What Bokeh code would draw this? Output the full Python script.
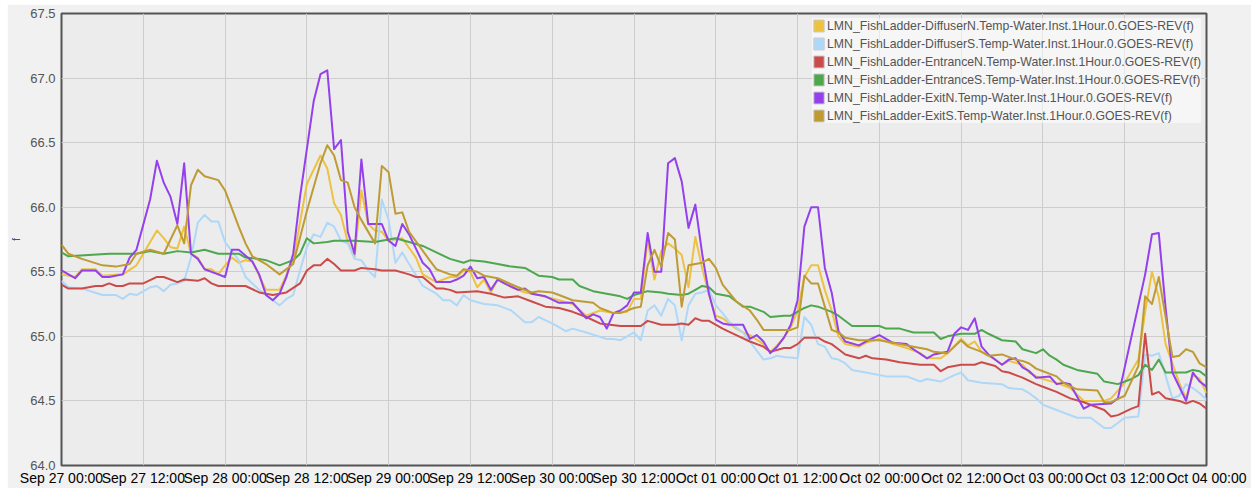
from datetime import datetime, timedelta
from bokeh.plotting import figure
from bokeh.models import (Range1d, FixedTicker, DatetimeTickFormatter, NumeralTickFormatter,
                          Legend, LegendItem, ColumnDataSource)
from bokeh.embed import file_html
from bokeh.resources import INLINE

# ---------------- data (hours after Sep 27 00:00, value in f) ----------------
start = datetime(2023, 9, 27)

names = [
    "LMN_FishLadder-DiffuserN.Temp-Water.Inst.1Hour.0.GOES-REV(f)",
    "LMN_FishLadder-DiffuserS.Temp-Water.Inst.1Hour.0.GOES-REV(f)",
    "LMN_FishLadder-EntranceN.Temp-Water.Inst.1Hour.0.GOES-REV(f)",
    "LMN_FishLadder-EntranceS.Temp-Water.Inst.1Hour.0.GOES-REV(f)",
    "LMN_FishLadder-ExitN.Temp-Water.Inst.1Hour.0.GOES-REV(f)",
    "LMN_FishLadder-ExitS.Temp-Water.Inst.1Hour.0.GOES-REV(f)",
]
colors = ["#edc240", "#afd8f8", "#cb4b4b", "#4da74d", "#9440ed", "#be9b33"]

diffN_h = [0, 2, 3, 5, 6, 9, 11, 12, 14, 15, 16, 17, 18, 19, 20, 21, 22, 23, 24, 25, 26, 27, 28,
           30, 32, 34, 36, 38, 39, 40, 41, 42, 43, 44, 45, 46, 47, 48, 50, 52, 53, 55, 57, 58, 59,
           60, 61, 62, 63, 64, 66, 68, 70, 73, 75, 77, 79, 81, 83, 84, 85, 86, 87, 88, 89, 90, 91,
           92, 93, 94, 95, 96, 97, 99, 100, 101, 103, 104, 105, 106, 107, 108, 109, 110, 111, 112,
           113, 114, 115, 117, 118, 120, 122, 124, 126, 127, 129, 130, 132, 133, 134, 135, 137,
           138, 139, 141, 142, 143, 144, 146, 148, 150, 153, 154, 156, 158, 159, 160, 161, 162,
           164, 165, 166, 167, 168]
diffN_v = [65.48, 65.46, 65.52, 65.52, 65.47, 65.48, 65.55, 65.64, 65.82, 65.76, 65.69, 65.68,
           65.85, 65.64, 65.61, 65.52, 65.52, 65.48, 65.55, 65.61, 65.57, 65.59, 65.58,
           65.36, 65.36, 65.59, 66.18, 66.40, 66.30, 66.03, 65.94, 65.73, 65.61, 66.13, 65.87,
           65.82, 65.81, 65.74, 65.76, 65.61, 65.48, 65.42, 65.46, 65.46, 65.51,
           65.50, 65.38, 65.44, 65.34, 65.44, 65.38, 65.34, 65.32, 65.28, 65.25, 65.16, 65.20,
           65.18, 65.19, 65.29, 65.29, 65.75, 65.44, 65.66, 65.72, 65.68, 65.63,
           65.38, 65.77, 65.53, 65.32, 65.16, 65.14, 65.06, 65.03, 65.01, 64.94, 64.88, 64.93,
           64.99, 65.07, 65.20, 65.46, 65.55, 65.55, 65.36,
           65.20, 65.00, 64.94, 64.92, 64.95, 64.98, 64.94, 64.91, 64.87, 64.83, 64.83, 64.87,
           64.98, 64.93, 64.96, 64.88, 64.82,
           64.78, 64.81, 64.78, 64.72, 64.69, 64.67, 64.64, 64.60, 64.50, 64.50, 64.52, 64.64,
           64.82, 65.19, 65.50, 65.30, 64.94,
           64.64, 64.52, 64.70, 64.67, 64.56]

diffS_h = [0, 1, 3, 6, 8, 9, 10, 11, 13, 14, 15, 16, 17, 18, 19, 20, 21, 22, 23, 24, 26, 27, 29,
           31, 32, 33, 34, 35, 36, 37, 38, 39, 40, 41, 42, 43, 44, 45, 46, 47, 48, 49, 50, 51, 53,
           55, 56, 57, 58, 59, 60, 62, 64, 66, 68, 69, 70, 72, 74, 75, 77, 80, 81, 82, 83, 84, 85,
           86, 87, 88, 89, 90, 91, 92, 93, 94, 95, 96, 97, 98, 100, 101, 102, 103, 104, 105, 106,
           108, 109, 110, 111, 112, 113, 114, 115, 116, 118, 121, 124, 126, 127, 129, 131, 132,
           133, 135, 138, 139, 141, 142, 143, 144, 146, 149, 151, 153, 154, 156, 158, 159, 160,
           161, 163, 164, 165, 166, 167, 168]
diffS_v = [65.43, 65.38, 65.37, 65.32, 65.32, 65.29, 65.33, 65.32, 65.38, 65.39, 65.35, 65.40,
           65.41, 65.43, 65.61, 65.88, 65.94, 65.89, 65.89, 65.73, 65.59, 65.46, 65.36,
           65.28, 65.24, 65.29, 65.32, 65.51, 65.69, 65.79, 65.77, 65.88, 65.85, 65.74, 65.72,
           65.60, 65.59, 65.51, 65.46, 66.06, 65.90, 65.57, 65.65, 65.56, 65.39,
           65.33, 65.28, 65.28, 65.24, 65.32, 65.28, 65.25, 65.24, 65.20, 65.11, 65.11, 65.15,
           65.10, 65.04, 65.06, 65.03, 64.98, 64.98, 64.97, 65.00, 65.03, 64.97,
           65.20, 65.24, 65.16, 65.29, 65.24, 64.97, 65.24, 65.33, 65.34, 65.36, 65.24, 65.18,
           65.11, 65.03, 64.96, 64.89, 64.82, 64.83, 64.85, 64.84,
           64.83, 65.15, 65.09, 64.94, 64.92, 64.83, 64.82, 64.79, 64.74, 64.72, 64.69, 64.69,
           64.65, 64.67, 64.65, 64.70, 64.72,
           64.66, 64.64, 64.63, 64.60, 64.59, 64.56, 64.52, 64.47, 64.43, 64.37, 64.37, 64.29,
           64.29, 64.37, 64.38, 64.86, 64.85,
           64.87, 64.52, 64.54, 64.63, 64.60, 64.56, 64.51]

entN_h = [0, 1, 3, 5, 6, 7, 8, 9, 10, 12, 14, 15, 17, 18, 20, 21, 22, 23, 27, 29, 31, 33, 35,
          36, 37, 38, 39, 40, 41, 43, 44, 46, 47, 49, 51, 52, 53, 55, 56, 57, 58, 61, 63, 65, 67,
          69, 71, 73, 75, 77, 79, 82, 85, 86, 88, 90, 91, 92, 93, 94, 95, 97, 99, 101, 103, 104,
          106, 107, 108, 109, 111, 112, 113, 114, 115, 117, 118, 119, 121, 123, 126, 128, 129,
          130, 132, 134, 135, 137, 138, 139, 141, 143, 144, 146, 148, 150, 153, 154, 155, 157,
          158, 159, 160, 161, 162, 164, 165, 166, 167, 168]
entN_v = [65.40, 65.37, 65.37, 65.39, 65.39, 65.41, 65.39, 65.39, 65.41, 65.41, 65.46, 65.46,
          65.42, 65.44, 65.43, 65.45, 65.41, 65.39, 65.39, 65.34, 65.32, 65.34, 65.41,
          65.51, 65.55, 65.55, 65.60, 65.56, 65.51, 65.51, 65.53, 65.52, 65.51, 65.51, 65.48,
          65.46, 65.46, 65.37, 65.37, 65.36, 65.34, 65.35, 65.33, 65.30, 65.31,
          65.27, 65.23, 65.22, 65.19, 65.15, 65.10, 65.08, 65.08, 65.12, 65.09, 65.09, 65.10,
          65.09, 65.14, 65.12, 65.12, 65.06, 65.01, 64.96, 64.92, 64.88,
          64.91, 64.91, 64.94, 64.99, 64.99, 64.96, 64.94, 64.90, 64.86, 64.83, 64.85, 64.83,
          64.82, 64.80, 64.78, 64.78, 64.73,
          64.76, 64.78, 64.78, 64.80, 64.77, 64.73, 64.72, 64.68, 64.63, 64.61, 64.57, 64.52,
          64.49, 64.43, 64.38, 64.39, 64.44,
          64.46, 65.02, 64.55, 64.57, 64.52, 64.50, 64.48, 64.50, 64.48, 64.44]

entS_h = [0, 1, 4, 7, 11, 13, 15, 17, 19, 21, 23, 26, 27, 29, 30, 32, 34, 35, 36, 37, 39, 40,
          43, 46, 49, 51, 53, 55, 57, 59, 60, 62, 64, 66, 68, 70, 72, 73, 75, 76, 78, 80, 82, 83,
          84, 86, 88, 89, 91, 92, 93, 94, 95, 96, 98, 99, 100, 101, 103, 104, 106, 107, 109, 110,
          111, 113, 114, 116, 120, 121, 123, 125, 128, 129, 130, 132, 134, 135, 136, 138, 140,
          141, 143, 144, 145, 146, 147, 149, 152, 153, 155, 157, 158, 159, 160, 161, 162, 165,
          166, 167, 168]
entS_v = [65.65, 65.62, 65.63, 65.64, 65.64, 65.66, 65.64, 65.66, 65.65, 65.67, 65.64, 65.64,
          65.61, 65.60, 65.59, 65.55, 65.59, 65.64, 65.76, 65.72, 65.73, 65.74,
          65.74, 65.73, 65.76, 65.73, 65.70, 65.65, 65.60, 65.57, 65.59, 65.58, 65.56, 65.54,
          65.53, 65.47, 65.46, 65.44, 65.44, 65.39, 65.35, 65.33, 65.31, 65.29,
          65.32, 65.35, 65.34, 65.33, 65.32, 65.33, 65.36, 65.39, 65.38, 65.33, 65.31, 65.27,
          65.23, 65.23, 65.19, 65.15, 65.16, 65.16, 65.22, 65.24,
          65.23, 65.19, 65.16, 65.08, 65.08, 65.06, 65.06, 65.03, 65.03, 64.98, 65.00, 65.02,
          65.02, 65.05, 65.02, 64.97, 64.96,
          64.90, 64.87, 64.90, 64.85, 64.82, 64.78, 64.74, 64.71, 64.65, 64.63, 64.67, 64.70,
          64.78, 64.74, 64.82, 64.72, 64.72,
          64.74, 64.73, 64.69]

exitN_h = [0, 2, 3, 5, 6, 7, 9, 10, 11, 13, 14, 15, 16, 17, 18, 19, 20, 21, 23, 24, 25, 26, 28,
           29, 30, 31, 32, 33, 34, 35, 37, 38, 39, 40, 41, 42, 43, 44, 45, 47, 48, 49, 50, 51, 53,
           54, 55, 57, 58, 59, 60, 61, 62, 63, 64, 65, 67, 68, 69, 71, 73, 75, 77, 78, 79, 80, 81,
           82, 83, 84, 85, 86, 87, 88, 89, 90, 91, 92, 93, 94, 95, 96, 97, 98, 100, 101, 102, 103,
           104, 105, 106, 107, 108, 109, 110, 111, 112, 113, 114, 115, 117, 118, 120, 122, 124,
           125, 127, 128, 130, 131, 132, 133, 134, 135, 136, 138, 139, 140, 141, 142, 143, 145,
           146, 147, 148, 150, 151, 154, 155, 157, 159, 160, 161, 162, 163, 165, 166, 167, 168]
exitN_v = [65.51, 65.45, 65.51, 65.51, 65.46, 65.46, 65.48, 65.61, 65.67, 66.06, 66.36, 66.19,
           66.08, 65.87, 66.34, 65.64, 65.60, 65.52, 65.48, 65.46, 65.67, 65.67, 65.58,
           65.48, 65.32, 65.28, 65.33, 65.46, 65.64, 66.08, 66.82, 67.03, 67.06, 66.45, 66.52,
           65.81, 65.64, 66.37, 65.87, 65.87, 65.74, 65.70, 65.87, 65.79, 65.57,
           65.52, 65.42, 65.42, 65.44, 65.47, 65.54, 65.45, 65.46, 65.36, 65.44, 65.41, 65.36,
           65.37, 65.33, 65.31, 65.26, 65.26, 65.14, 65.17, 65.15, 65.06, 65.18,
           65.20, 65.24, 65.34, 65.34, 65.80, 65.50, 65.50, 66.34, 66.38, 66.20, 65.84, 66.02,
           65.64, 65.33, 65.13, 65.10, 65.09, 65.09, 64.98, 65.01, 64.96,
           64.87, 64.92, 64.99, 65.09, 65.28, 65.85, 66.00, 66.00, 65.53, 65.34, 65.04, 64.96,
           64.93, 64.96, 65.01, 64.95, 64.94,
           64.90, 64.83, 64.86, 64.88, 65.02, 65.07, 65.05, 65.14, 64.92, 64.86, 64.78, 64.82,
           64.83, 64.76, 64.73, 64.68, 64.69,
           64.63, 64.64, 64.63, 64.44, 64.47, 64.48, 64.52, 65.00, 65.48, 65.79, 65.80, 65.22,
           64.72, 64.50, 64.72, 64.65, 64.61]

exitS_h = [0, 1, 3, 6, 8, 10, 11, 13, 15, 17, 18, 19, 20, 21, 23, 24, 26, 27, 28, 30, 32, 34,
           36, 38, 39, 40, 41, 42, 43, 44, 46, 47, 48, 49, 50, 51, 54, 55, 57, 58, 59, 60, 61, 62,
           64, 67, 69, 70, 72, 73, 75, 78, 79, 81, 82, 84, 85, 86, 87, 88, 89, 90, 91, 92, 93, 94,
           95, 96, 97, 99, 101, 102, 103, 107, 108, 109, 110, 111, 112, 113, 114, 115, 117, 118,
           120, 123, 125, 127, 128, 130, 132, 133, 135, 136, 138, 140, 141, 142, 143, 144, 146,
           147, 149, 152, 153, 154, 156, 158, 159, 160, 161, 163, 164, 165, 166, 167, 168]
exitS_v = [65.71, 65.64, 65.60, 65.55, 65.54, 65.56, 65.64, 65.67, 65.64, 65.86, 65.72, 66.17,
           66.29, 66.24, 66.21, 66.13, 65.85, 65.72, 65.62, 65.56, 65.48, 65.56,
           65.97, 66.34, 66.48, 66.40, 66.21, 66.19, 66.00, 65.90, 65.72, 66.32, 66.27, 65.95,
           65.96, 65.81, 65.59, 65.52, 65.48, 65.47, 65.52, 65.51, 65.50, 65.47,
           65.45, 65.38, 65.34, 65.35, 65.34, 65.32, 65.28, 65.26, 65.22, 65.18, 65.18, 65.22,
           65.23, 65.55, 65.67, 65.54, 65.80, 65.75, 65.23, 65.55, 65.56, 65.57,
           65.60, 65.53, 65.40, 65.27, 65.20, 65.13, 65.05, 65.05, 65.07, 65.47, 65.41, 65.41,
           65.23, 65.05, 65.03, 64.99, 64.97, 64.97,
           64.97, 64.94, 64.92, 64.90, 64.88, 64.87, 64.97, 64.92, 64.88, 64.85, 64.86, 64.82,
           64.81, 64.79, 64.75, 64.73, 64.69,
           64.64, 64.59, 64.58, 64.49, 64.49, 64.54, 64.77, 65.31, 65.25, 65.46, 64.84, 64.85,
           64.90, 64.88, 64.79, 64.76]

series_hours = [diffN_h, diffS_h, entN_h, entS_h, exitN_h, exitS_h]
series_values = [diffN_v, diffS_v, entN_v, entS_v, exitN_v, exitS_v]

y_ticks = [64.0, 64.5, 65.0, 65.5, 66.0, 66.5, 67.0, 67.5]
x_tick_hours = list(range(0, 169, 12))

# ---------------- figure ----------------
FONT = "Liberation Sans"
epoch = datetime(1970, 1, 1)


def to_ms(d):
    return (d - epoch).total_seconds() * 1000.0


p = figure(width=1244, height=484, x_axis_type="datetime",
           x_range=Range1d(start, start + timedelta(hours=168)),
           y_range=Range1d(64.0, 67.5),
           output_backend="svg", toolbar_location=None,
           min_border_left=53, min_border_right=45, min_border_top=9, min_border_bottom=22)
p.margin = (4, 0, 0, 7)

p.background_fill_color = "#ececec"
p.border_fill_color = "#f1f1f1"
p.outline_line_color = "#545454"
p.outline_line_width = 2

p.xaxis.ticker = FixedTicker(ticks=[to_ms(start + timedelta(hours=h)) for h in x_tick_hours])
fmt = "%b %d %H:%M"
p.xaxis.formatter = DatetimeTickFormatter(microseconds=fmt, milliseconds=fmt, seconds=fmt,
                                          minsec=fmt, minutes=fmt, hourmin=fmt, hours=fmt,
                                          days=fmt, months=fmt, years=fmt)
p.yaxis.ticker = FixedTicker(ticks=y_ticks)
p.yaxis.formatter = NumeralTickFormatter(format="0.0")

for ax in (p.xaxis[0], p.yaxis[0]):
    ax.axis_line_color = None
    ax.major_tick_line_color = None
    ax.minor_tick_line_color = None
    ax.major_tick_out = 0
    ax.major_tick_in = 0

p.xaxis.major_label_text_font = FONT
p.xaxis.major_label_text_font_size = "14px"
p.xaxis.major_label_text_color = "#000000"
p.xaxis.major_label_standoff = 4

p.yaxis.major_label_text_font = FONT
p.yaxis.major_label_text_font_size = "13px"
p.yaxis.major_label_text_color = "#545454"
p.yaxis.major_label_standoff = 6
p.yaxis.axis_label = "f"
p.yaxis.axis_label_text_font = FONT
p.yaxis.axis_label_text_font_size = "11px"
p.yaxis.axis_label_text_font_style = "normal"
p.yaxis.axis_label_text_color = "#545454"
p.yaxis.axis_label_standoff = 5

p.xgrid.grid_line_color = "#cdcdcd"
p.ygrid.grid_line_color = "#cdcdcd"

items = []
for name, color, hrs, vals in zip(names, colors, series_hours, series_values):
    xs = [start + timedelta(hours=h) for h in hrs]
    src = ColumnDataSource(dict(x=xs, y=vals))
    p.line("x", "y", source=src, line_color=color, line_width=2, line_join="round")
    # zero-size swatch renderer used only for the legend colour box
    box = p.rect(x=xs[:1], y=vals[:1], width=0, height=0, fill_color=color,
                 line_color="#cccccc", line_width=1)
    items.append(LegendItem(label=name, renderers=[box]))

legend = Legend(items=items, location="top_right", margin=5, padding=2, spacing=3,
                glyph_width=13, glyph_height=15, label_height=15, label_standoff=2,
                label_text_font=FONT, label_text_font_size="12.25px", label_text_color="#545454",
                background_fill_color="white", background_fill_alpha=0.55,
                border_line_color=None)
p.add_layout(legend)

open("out.html", "w").write(file_html(p, INLINE))
